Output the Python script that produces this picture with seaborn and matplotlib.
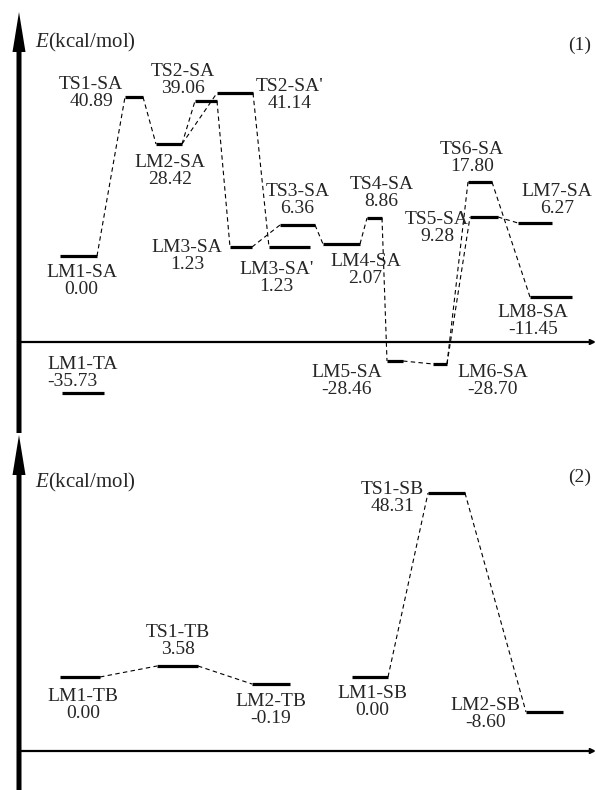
"""Potential energy profiles (schematic) for the SA/TA and TB/SB pathways."""

import matplotlib
matplotlib.use("Agg")
import matplotlib.pyplot as plt
import pandas as pd
import seaborn as sns
from matplotlib.patches import FancyArrow

# ---- panel (1) -------------------------------------------------------------
SA_NAMES = ["LM1-SA", "TS1-SA", "LM2-SA", "TS2-SA", "TS2-SA'", "LM3-SA", "LM3-SA'",
            "TS3-SA", "LM4-SA", "TS4-SA", "LM5-SA", "LM6-SA", "TS5-SA", "TS6-SA",
            "LM7-SA", "LM8-SA", "LM1-TA"]
SA_ENERGY = [0.00, 40.89, 28.42, 39.06, 41.14, 1.23, 1.23, 6.36, 2.07, 8.86,
             -28.46, -28.70, 9.28, 17.80, 6.27, -11.45, -35.73]
# drawn (schematic) height of each level, the diagram is not to scale
SA_HEIGHT = [8.6, 24.5, 19.8, 24.1, 24.9, 9.5, 9.5, 11.7, 9.8, 12.4,
             -1.9, -2.2, 12.5, 16.0, 11.9, 4.5, -5.1]
SA_START = [60, 125, 156, 195, 217, 230, 269, 280, 323, 367, 387, 433, 470, 468, 518, 530, 62]
SA_END = [97, 143, 182, 217, 253, 252, 310, 315, 360, 382, 403, 447, 498, 492, 552, 572, 104]
SA_LINKS = [("LM1-SA", "TS1-SA"), ("TS1-SA", "LM2-SA"), ("LM2-SA", "TS2-SA"),
            ("LM2-SA", "TS2-SA'"), ("TS2-SA", "LM3-SA"), ("TS2-SA'", "LM3-SA'"),
            ("LM3-SA", "TS3-SA"), ("TS3-SA", "LM4-SA"), ("LM4-SA", "TS4-SA"),
            ("TS4-SA", "LM5-SA"), ("LM5-SA", "LM6-SA"), ("LM6-SA", "TS5-SA"),
            ("LM6-SA", "TS6-SA"), ("TS5-SA", "LM7-SA"), ("TS6-SA", "LM8-SA")]

# ---- panel (2) -------------------------------------------------------------
SB_NAMES = ["LM1-TB", "TS1-TB", "LM2-TB", "LM1-SB", "TS1-SB", "LM2-SB"]
SB_ENERGY = [0.00, 3.58, -0.19, 0.00, 48.31, -8.60]
SB_HEIGHT = [7.4, 8.5, 6.7, 7.4, 25.8, 3.9]
SB_START = [60, 157, 252, 352, 428, 526]
SB_END = [100, 198, 290, 388, 465, 563]
SB_LINKS = [("LM1-TB", "TS1-TB"), ("TS1-TB", "LM2-TB"),
            ("LM1-SB", "TS1-SB"), ("TS1-SB", "LM2-SB")]

# label placement relative to the level centre, in pixels (+dy = down)
LABEL_OFFSET = {
    "LM1-SA": (3, 25), "TS1-SA": (-43, -4), "LM2-SA": (1, 27), "TS2-SA": (-23, -21),
    "TS2-SA'": (55, 2), "LM3-SA": (-54, 9), "LM3-SA'": (-13, 31), "TS3-SA": (0, -25),
    "LM4-SA": (24, 26), "TS4-SA": (7, -25), "LM5-SA": (-48, 20), "LM6-SA": (53, 17),
    "TS5-SA": (-47, 11), "TS6-SA": (-8, -24), "LM7-SA": (22, -23), "LM8-SA": (-18, 24),
    "LM1-TA": (0, -20),
    "LM1-TB": (3, 28), "TS1-TB": (0, -25), "LM2-TB": (0, 26), "LM1-SB": (2, 25),
    "TS1-SB": (-54, 5), "LM2-SB": (-59, 2),
}

PX = 0.72  # points per pixel at dpi 100
FONT = 14


def level_frame(names, starts, ends, heights):
    rows = []
    for n, x0, x1, h in zip(names, starts, ends, heights):
        rows.append({"id": n, "x": x0, "y": h})
        rows.append({"id": n, "x": x1, "y": h})
    return pd.DataFrame(rows)


def link_frame(names, starts, ends, heights, links):
    idx = {n: i for i, n in enumerate(names)}
    rows = []
    for k, (a, b) in enumerate(links):
        i, j = idx[a], idx[b]
        rows.append({"id": k, "x": ends[i], "y": heights[i]})
        rows.append({"id": k, "x": starts[j], "y": heights[j]})
    return pd.DataFrame(rows)


def draw_panel(ax, names, energy, heights, starts, ends, links, ylim, arrow_top, arrow_bottom):
    ax.set_xlim(0, 596)
    ax.set_ylim(*ylim)
    ax.set_axis_off()

    # axes: thick vertical arrow and thin horizontal arrow at E = 0
    ax.add_patch(FancyArrow(19, arrow_bottom, 0, arrow_top - arrow_bottom, width=5,
                            head_width=13, head_length=4.0, length_includes_head=True,
                            color="black", lw=0, clip_on=False))
    ax.annotate("", xy=(596, 0), xytext=(19, 0), annotation_clip=False,
                arrowprops=dict(arrowstyle="->", lw=1.6, color="black",
                                shrinkA=0, shrinkB=0, mutation_scale=7))

    links_df = link_frame(names, starts, ends, heights, links)
    sns.lineplot(data=links_df, x="x", y="y", units="id", estimator=None, sort=False,
                 color="black", lw=0.8, ls=(0, (4, 3)), ax=ax, legend=False)

    levels_df = level_frame(names, starts, ends, heights)
    sns.lineplot(data=levels_df, x="x", y="y", units="id", estimator=None, sort=False,
                 color="black", lw=2.3, solid_capstyle="butt", ax=ax, legend=False)

    for n, e, h, x0, x1 in zip(names, energy, heights, starts, ends):
        dx, dy = LABEL_OFFSET[n]
        ax.annotate(f"{n}\n{e:.2f}", xy=((x0 + x1) / 2, h), xytext=(dx * PX, -dy * PX),
                    textcoords="offset points", ha="center", va="center",
                    multialignment="left" if n == "LM1-TA" else "center",
                    linespacing=0.95, fontsize=FONT)

    ax.set_xlabel("")
    ax.set_ylabel("")
    return ax


def main():
    sns.set_theme(style="white")
    plt.rcParams["font.family"] = ["Liberation Serif", "DejaVu Serif"]
    plt.rcParams["mathtext.fontset"] = "custom"
    plt.rcParams["mathtext.rm"] = "Liberation Serif"
    plt.rcParams["mathtext.it"] = "Liberation Serif:italic"

    fig = plt.figure(figsize=(5.96, 7.9), dpi=100)
    ax1 = fig.add_axes([0, 355 / 790, 1, 435 / 790])
    ax2 = fig.add_axes([0, 0, 1, 355 / 790])

    draw_panel(ax1, SA_NAMES, SA_ENERGY, SA_HEIGHT, SA_START, SA_END, SA_LINKS,
               (-9.3, 34.2), 33.0, -9.1)
    ax1.text(35, 30.0, "$E$(kcal/mol)", ha="left", va="center", fontsize=15)
    ax1.text(580, 29.7, "(1)", ha="center", va="center", fontsize=FONT)

    draw_panel(ax2, SB_NAMES, SB_ENERGY, SB_HEIGHT, SB_START, SB_END, SB_LINKS,
               (-3.9, 31.6), 31.6, -3.9)
    ax2.text(35, 26.9, "$E$(kcal/mol)", ha="left", va="center", fontsize=15)
    ax2.text(580, 27.4, "(2)", ha="center", va="center", fontsize=FONT)

    fig.savefig("out.png", dpi=100)
    plt.close(fig)


if __name__ == "__main__":
    main()
